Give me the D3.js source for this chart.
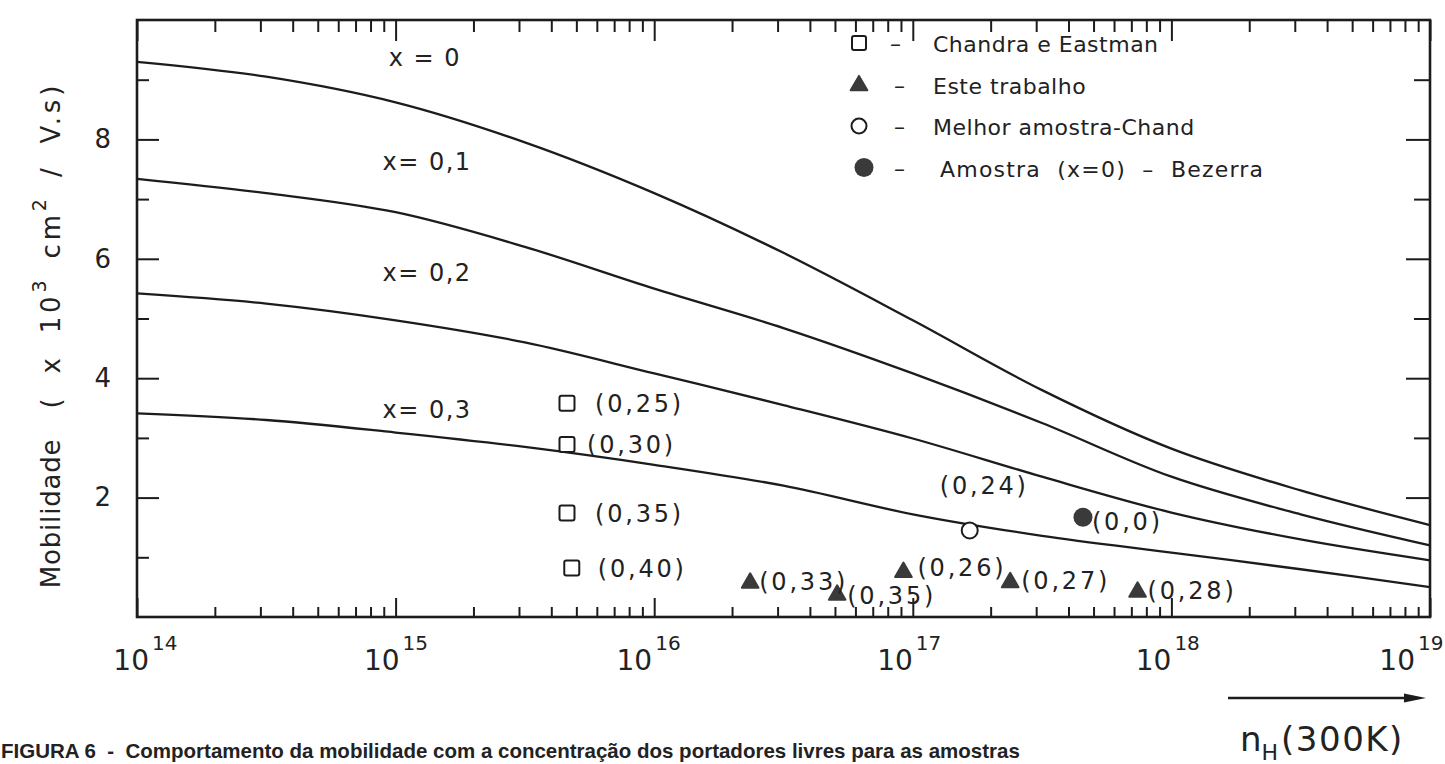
<!DOCTYPE html>
<html>
<head>
<meta charset="utf-8">
<script src="https://cdn.jsdelivr.net/npm/d3@7"></script>
<style>
  body { margin: 0; background: #fff; }
  svg { display: block; }
  text { font-family: "DejaVu Sans", sans-serif; fill: #222; }
</style>
</head>
<body>
<div id="chart"></div>
<script>
// values (mobility in 10^3 cm^2/V.s)
const concentration = [1e14, 3.16e14, 1e15, 3.16e15, 1e16, 3.16e16, 1e17, 3.16e17, 1e18, 3.16e18, 1e19];
const mobilityX00 = [9.3, 9.05, 8.62, 7.95, 7.1, 6.1, 4.97, 3.8, 2.82, 2.12, 1.54];
const mobilityX01 = [7.34, 7.1, 6.78, 6.2, 5.5, 4.84, 4.08, 3.25, 2.35, 1.72, 1.2];
const mobilityX02 = [5.42, 5.25, 4.97, 4.6, 4.08, 3.55, 2.99, 2.35, 1.75, 1.3, 0.95];
const mobilityX03 = [3.41, 3.3, 3.09, 2.85, 2.55, 2.2, 1.72, 1.36, 1.08, 0.8, 0.5];
const curveNames = ["x = 0", "x= 0,1", "x= 0,2", "x= 0,3"];

// Chandra e Eastman (open squares)
const chandraN = [4.6e15, 4.6e15, 4.6e15, 4.8e15];
const chandraMu = [3.58, 2.89, 1.74, 0.82];
const chandraLabels = ["(0,25)", "(0,30)", "(0,35)", "(0,40)"];

// Este trabalho (filled triangles)
const esteN = [2.35e16, 5.1e16, 9.2e16, 2.38e17, 7.4e17];
const esteMu = [0.57, 0.37, 0.75, 0.58, 0.42];
const esteLabels = ["(0,33)", "(0,35)", "(0,26)", "(0,27)", "(0,28)"];

// Melhor amostra - Chand (open circle) and Bezerra (filled circle)
const melhorN = [1.66e17];
const melhorMu = [1.45];
const melhorLabels = ["(0,24)"];
const bezerraN = [4.55e17];
const bezerraMu = [1.67];
const bezerraLabels = ["(0,0)"];

const legendLabels = ["Chandra e Eastman", "Este trabalho", "Melhor amostra-Chand", "Amostra  (x=0)  \u2013  Bezerra"];
const xDecades = [1e14, 1e15, 1e16, 1e17, 1e18, 1e19];
const xExponents = ["14", "15", "16", "17", "18", "19"];
const yMajorTicks = [2, 4, 6, 8];
const yMinorTicks = [1, 3, 5, 7, 9];

const width = 1445, height = 764;
const margin = { top: 20, right: 15, bottom: 147, left: 137 };
const ink = "#1c1c1c";

const svg = d3.select("#chart").append("svg")
    .attr("width", width)
    .attr("height", height);

const x = d3.scaleLog()
    .domain([1e14, 1e19])
    .range([margin.left, width - margin.right]);

const y = d3.scaleLinear()
    .domain([0, 10])
    .range([height - margin.bottom, margin.top]);

const x0 = margin.left, x1 = width - margin.right;
const yTop = margin.top, yBot = height - margin.bottom;

const minorX = x.ticks().filter(d => !Number.isInteger(Math.log10(d)));

function styleAxis(g) {
    g.select(".domain").remove();
    g.selectAll(".tick line").attr("stroke", ink).attr("stroke-width", 2);
}

// bottom and top log ticks, pointing inward
svg.append("g").attr("transform", `translate(0,${yBot})`)
    .call(d3.axisBottom(x).tickValues(xDecades).tickSize(-19).tickFormat(""))
    .call(styleAxis);
svg.append("g").attr("transform", `translate(0,${yBot})`)
    .call(d3.axisBottom(x).tickValues(minorX).tickSize(-10).tickFormat(""))
    .call(styleAxis);
svg.append("g").attr("transform", `translate(0,${yTop})`)
    .call(d3.axisTop(x).tickValues(xDecades).tickSize(-21).tickFormat(""))
    .call(styleAxis);
svg.append("g").attr("transform", `translate(0,${yTop})`)
    .call(d3.axisTop(x).tickValues(minorX).tickSize(-12).tickFormat(""))
    .call(styleAxis);

// left axis with labels
svg.append("g").attr("transform", `translate(${x0},0)`)
    .call(d3.axisLeft(y).tickValues(yMajorTicks).tickSize(-22).tickPadding(26))
    .call(styleAxis)
    .call(g => g.selectAll("text")
        .style("font-size", "26px")
        .attr("fill", "#222"));
svg.append("g").attr("transform", `translate(${x0},0)`)
    .call(d3.axisLeft(y).tickValues(yMinorTicks).tickSize(-12).tickFormat(""))
    .call(styleAxis);

// right axis
svg.append("g").attr("transform", `translate(${x1},0)`)
    .call(d3.axisRight(y).tickValues(yMajorTicks).tickSize(-24).tickFormat(""))
    .call(styleAxis);
svg.append("g").attr("transform", `translate(${x1},0)`)
    .call(d3.axisRight(y).tickValues(yMinorTicks.slice(1)).tickSize(-16).tickFormat(""))
    .call(styleAxis);

// frame
svg.append("rect")
    .attr("x", x0).attr("y", yTop)
    .attr("width", x1 - x0).attr("height", yBot - yTop)
    .attr("fill", "none")
    .attr("stroke", ink)
    .attr("stroke-width", 2.6);

// x tick labels 10^n
const decadeShift = [12, 4, -2, 0, 0, -15];
const xl = svg.append("g");
xDecades.forEach((d, i) => {
    const px = x(d) + decadeShift[i];
    xl.append("text")
        .attr("x", px).attr("y", 670)
        .attr("text-anchor", "end")
        .style("font-size", "28px")
        .text("10");
    xl.append("text")
        .attr("x", px + 3).attr("y", 650)
        .style("font-size", "20px")
        .text(xExponents[i]);
});

// curves
const line = d3.line()
    .x((d, i) => x(concentration[i]))
    .y(d => y(d))
    .curve(d3.curveCatmullRom.alpha(0.5));

const series = [mobilityX00, mobilityX01, mobilityX02, mobilityX03];
svg.append("g").selectAll("path")
    .data(series)
    .join("path")
    .attr("d", line)
    .attr("fill", "none")
    .attr("stroke", ink)
    .attr("stroke-width", 2.3);

// curve names
const curveNameAt = [[9.4e14, 9.23], [8.9e14, 7.49], [8.9e14, 5.63], [8.9e14, 3.33]];
svg.append("g").selectAll("text")
    .data(curveNames)
    .join("text")
    .attr("x", (d, i) => x(curveNameAt[i][0]))
    .attr("y", (d, i) => y(curveNameAt[i][1]))
    .style("font-size", "24px")
    .style("letter-spacing", "1.5px")
    .style("white-space", "pre")
    .text(d => d);

// markers
const pts = svg.append("g");
const markFill = "#3a3a3a";

pts.selectAll("rect.sq")
    .data(chandraMu)
    .join("rect")
    .attr("class", "sq")
    .attr("x", (d, i) => x(chandraN[i]) - 7.5)
    .attr("y", d => y(d) - 7.5)
    .attr("width", 15).attr("height", 15)
    .attr("rx", 2)
    .attr("fill", "#fff")
    .attr("stroke", ink)
    .attr("stroke-width", 2);

const tri = d3.symbol(d3.symbolTriangle, 120);
pts.selectAll("path.tri")
    .data(esteMu)
    .join("path")
    .attr("class", "tri")
    .attr("d", tri)
    .attr("transform", (d, i) => `translate(${x(esteN[i])},${y(d)})`)
    .attr("fill", markFill)
    .attr("stroke", markFill)
    .attr("stroke-linejoin", "round")
    .attr("stroke-width", 2);

pts.selectAll("circle.open")
    .data(melhorMu)
    .join("circle")
    .attr("class", "open")
    .attr("cx", (d, i) => x(melhorN[i]))
    .attr("cy", d => y(d))
    .attr("r", 8)
    .attr("fill", "#fff")
    .attr("stroke", ink)
    .attr("stroke-width", 2);

pts.selectAll("circle.full")
    .data(bezerraMu)
    .join("circle")
    .attr("class", "full")
    .attr("cx", (d, i) => x(bezerraN[i]))
    .attr("cy", d => y(d))
    .attr("r", 9.5)
    .attr("fill", markFill);

// point labels
function pointLabels(ns, mus, labels, offsets) {
    pts.append("g").selectAll("text")
        .data(labels)
        .join("text")
        .attr("x", (d, i) => x(ns[i]) + offsets[i][0])
        .attr("y", (d, i) => y(mus[i]) + offsets[i][1])
        .style("font-size", "24px")
        .style("letter-spacing", "2.8px")
        .text(d => d);
}
pointLabels(chandraN, chandraMu, chandraLabels, [[28, 9], [20, 9], [28, 9], [26, 9]]);
pointLabels(esteN, esteMu, esteLabels, [[9, 7], [10, 9], [14, 4], [11, 7], [10, 7]]);
pointLabels(melhorN, melhorMu, melhorLabels, [[-30, -36]]);
pointLabels(bezerraN, bezerraMu, bezerraLabels, [[9, 13]]);

// legend
const legend = svg.append("g").attr("transform", "translate(859,43)");
const rowGap = 41.5;
legend.append("rect")
    .attr("x", -7).attr("y", -7).attr("width", 14).attr("height", 14).attr("rx", 2)
    .attr("fill", "#fff").attr("stroke", ink).attr("stroke-width", 2);
legend.append("path")
    .attr("d", tri)
    .attr("transform", `translate(0,${rowGap + 1})`)
    .attr("fill", markFill).attr("stroke", markFill).attr("stroke-width", 2).attr("stroke-linejoin", "round");
legend.append("circle")
    .attr("cx", 0).attr("cy", rowGap * 2).attr("r", 7.5)
    .attr("fill", "#fff").attr("stroke", ink).attr("stroke-width", 2);
legend.append("circle")
    .attr("cx", 5).attr("cy", rowGap * 3).attr("r", 9.5)
    .attr("fill", markFill);
legend.selectAll("text.dash")
    .data(legendLabels)
    .join("text")
    .attr("class", "dash")
    .attr("x", (d, i) => i === 0 ? 31 : 35)
    .attr("y", (d, i) => i * rowGap + 8)
    .style("font-size", "22px")
    .text("\u2013");
legend.selectAll("text.lbl")
    .data(legendLabels)
    .join("text")
    .attr("class", "lbl")
    .attr("x", (d, i) => i === 3 ? 81 : 74)
    .attr("y", (d, i) => i * rowGap + 9)
    .style("font-size", "22px")
    .style("letter-spacing", (d, i) => i === 3 ? "1.2px" : "0.5px")
    .style("white-space", "pre")
    .text(d => d);

// y axis title
svg.append("text")
    .attr("transform", "translate(60,335) rotate(-90)")
    .attr("text-anchor", "middle")
    .style("font-size", "26px")
    .style("white-space", "pre")
    .call(t => {
        t.append("tspan").style("letter-spacing", "0.8px").text("Mobilidade ");
        const rest = [
            { s: " ( x 10", sup: false },
            { s: "3", sup: true },
            { s: " cm", sup: false },
            { s: "2", sup: true },
            { s: " / V.s)", sup: false }
        ];
        rest.forEach(r => {
            t.append("tspan")
                .attr("dy", r.sup ? -14 : (r.s === " ( x 10" ? 0 : 14))
                .style("font-size", r.sup ? "19px" : "26px")
                .style("letter-spacing", r.sup ? "1px" : "3.8px")
                .style("word-spacing", "9px")
                .text(r.s);
        });
    });

// arrow and n_H label
svg.append("line")
    .attr("x1", 1228).attr("x2", 1408)
    .attr("y1", 698).attr("y2", 698)
    .attr("stroke", ink).attr("stroke-width", 2.5);
svg.append("path")
    .attr("d", "M1404,693.5 L1426,698 L1404,702.5 Z")
    .attr("fill", ink);

svg.append("text")
    .attr("x", 1240).attr("y", 751)
    .style("font-size", "34px")
    .call(t => {
        t.append("tspan").text("n");
        t.append("tspan").attr("dy", 9).style("font-size", "22px").text("H");
        t.append("tspan").attr("dy", -9).attr("dx", 3).style("letter-spacing", "1.5px").text("(300K)");
    });

// caption
svg.append("text")
    .attr("x", 1).attr("y", 758)
    .style("font-family", "'Liberation Sans', Arial, sans-serif")
    .style("font-weight", "bold")
    .style("font-size", "20.5px")
    .style("white-space", "pre")
    .text("FIGURA 6  -  Comportamento da mobilidade com a concentração dos portadores livres para as amostras");
</script>
</body>
</html>
